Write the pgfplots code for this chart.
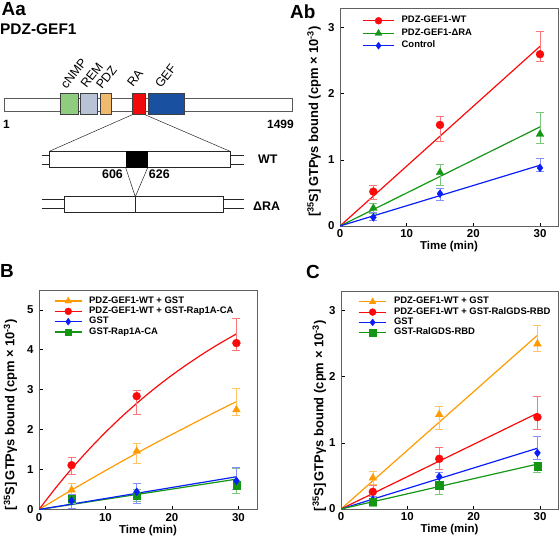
\documentclass[border=0pt]{standalone}
\usepackage{pgfplots}
\pgfplotsset{compat=1.18}
\usepackage{fontspec}
\setmainfont{Liberation Sans}
\definecolor{cred}{RGB}{250,10,10}
\definecolor{cgreen}{RGB}{20,150,20}
\definecolor{cblue}{RGB}{10,30,250}
\definecolor{corange}{RGB}{255,155,0}
\definecolor{bnmp}{RGB}{143,204,128}
\definecolor{brem}{RGB}{184,196,214}
\definecolor{bpdz}{RGB}{240,185,110}
\definecolor{bra}{RGB}{240,10,10}
\definecolor{bgef}{RGB}{26,80,160}
\newcommand{\fs}[1]{\fontsize{#1}{#1}\selectfont}
\pgfplotsset{
 panel/.style={
   scale only axis, anchor=south west,
   axis line style={draw=gray!75!black, line width=0.8bp},
   tick style={black, line width=0.8bp},
   tick align=inside, xtick pos=left, ytick pos=left,
   major tick length=3.5bp,
   xmin=0, xmax=32.7, xtick={0,10,20,30},
   ticklabel style={font=\fs{11.5}\bfseries},
   /pgf/number format/assume math mode=true,
   yticklabel style={xshift=-2bp},
   xlabel={Time (min)},
   xlabel style={font=\fs{11.5}\bfseries, at={(axis description cs:0.5,0)}, anchor=center, yshift=-21bp},
   ylabel={[\textsuperscript{35}S]\,GTPγs bound (cpm × 10\textsuperscript{-3})},
   ylabel style={font=\fs{13}\bfseries, anchor=center},
   legend cell align=left,
   legend style={draw=none, fill=none, font=\fs{9.5}\bfseries, anchor=north west, inner sep=0pt, column sep=6bp,
      nodes={inner sep=1bp, text height=6.3bp, text depth=2bp}},
 },
 fit/.style={line width=1.2bp, no markers, forget plot},
 dat/.style={only marks, forget plot, mark options={line width=0.3bp},
   error bars/.cd, y dir=both, y explicit,
   error bar style={line width=0.5bp, #1},
   error mark options={rotate=90, mark size=4bp, line width=0.5bp, #1}},
 leg/.style={line width=1.2bp, mark options={line width=0.3bp}},
}
\begin{document}
\begin{tikzpicture}
\path[use as bounding box] (0,0) rectangle (560bp,-537bp);
\begin{scope}[x=1bp,y=-1bp]
 % panel letters
 \node[anchor=base west, font=\fs{19}\bfseries, inner sep=0] at (1.5,15) {Aa};
 \node[anchor=base west, font=\fs{15.5}\bfseries, inner sep=0] at (0,34.3) {PDZ-GEF1};
 \node[anchor=base west, font=\fs{19}\bfseries, inner sep=0] at (290,18.3) {Ab};
 \node[anchor=base west, font=\fs{19}\bfseries, inner sep=0] at (0,277.5) {B};
 \node[anchor=base west, font=\fs{19}\bfseries, inner sep=0] at (306,278.5) {C};
 % main bar
 \draw[gray!70!black, line width=0.6bp, fill=white] (4,98) rectangle (292,111);
 \draw[gray!50!black, line width=0.6bp, fill=bnmp] (60.7,93.3) rectangle (78.7,114.7);
 \draw[gray!50!black, line width=0.6bp, fill=brem] (80.7,93.3) rectangle (97.7,114.7);
 \draw[gray!50!black, line width=0.6bp, fill=bpdz] (100.7,93.3) rectangle (111.3,114.7);
 \draw[gray!50!black, line width=0.6bp, fill=bra] (132.3,93.3) rectangle (145,114.7);
 \draw[gray!50!black, line width=0.6bp, fill=bgef] (148.3,93.3) rectangle (184,114.7);
 \foreach \p/\t in {{(66.5,90)}/cNMP, {(86.5,89)}/REM, {(102,90)}/PDZ, {(133,88)}/RA, {(161,89)}/GEF}
   \node[anchor=base west, rotate=52, font=\fs{12.5}, inner sep=0] at \p {\t};
 \node[anchor=west, font=\fs{12}\bfseries, inner sep=0] at (3,124.3) {1};
 \node[anchor=east, font=\fs{12}\bfseries, inner sep=0] at (294,124.3) {1499};
 % zoom lines
 \draw[gray!30!black, line width=0.5bp] (132.3,114.7) -- (49.3,151.3);
 \draw[gray!30!black, line width=0.5bp] (145,114.7) -- (230,151.3);
 % WT
 \draw[gray!30!black, line width=0.6bp] (41.7,155) -- (49.3,155) (41.7,164.5) -- (49.3,164.5)
    (230,155) -- (244,155) (230,164.5) -- (244,164.5);
 \draw[gray!30!black, line width=0.6bp, fill=white] (49.3,151.3) rectangle (230,167.7);
 \fill[black] (125.7,151.3) rectangle (147.7,167.7);
 \draw[gray!30!black, line width=0.5bp] (125.7,167.7) -- (135.3,196.7) -- (147.7,167.7);
 \node[font=\fs{12.5}\bfseries, inner sep=0] at (112.5,174.5) {606};
 \node[font=\fs{12.5}\bfseries, inner sep=0] at (159.3,174.5) {626};
 \node[anchor=west, font=\fs{12.5}\bfseries, inner sep=0] at (258,159.7) {WT};
 % dRA
 \draw[gray!30!black, line width=0.6bp] (41.7,199) -- (64.3,199) (41.7,208.5) -- (64.3,208.5)
    (223.3,199) -- (244,199) (223.3,208.5) -- (244,208.5);
 \draw[gray!30!black, line width=0.6bp, fill=white] (64.3,196.7) rectangle (223.3,212.7);
 \draw[gray!30!black, line width=0.6bp] (135.3,196.7) -- (135.3,212.7);
 \node[anchor=west, font=\fs{12.5}\bfseries, inner sep=0] at (253,206) {ΔRA};
\end{scope}

% ---------------- Ab
\begin{axis}[panel, at={(340bp,-226bp)}, width=218bp, height=218bp,
  ymin=0, ymax=3.3, ytick={0,1,2,3},
  ylabel style={at={(axis description cs:-0.119,0.479)}},
  legend style={at={(axis description cs:0.102,0.966)}, row sep=2.2bp},
  legend image code/.code={\draw[mark repeat=2,mark phase=2,#1] plot coordinates {(0bp,0bp) (15.5bp,0bp) (31bp,0bp)};}]
 \addplot[fit, cred] coordinates {(0,0) (30,2.72)};
 \addplot[fit, cgreen] coordinates {(0,0) (30,1.5)};
 \addplot[fit, cblue] coordinates {(0,0) (30,0.92)};
 \addplot[cred, mark=*, mark size=4bp, dat=cred!55] coordinates {
   (5,0.52) += (0,0.1) -= (0,0.12)
   (15,1.53) += (0,0.13) -= (0,0.25)
   (30,2.6) += (0,0.35) -= (0,0.11)};
 \addplot[cgreen, mark=triangle*, mark size=4.5bp, dat=cgreen!55] coordinates {
   (5,0.27) += (0,0.08) -= (0,0.08)
   (15,0.81) += (0,0.13) -= (0,0.2)
   (30,1.39) += (0,0.33) -= (0,0.13)};
 \addplot[cblue, mark=diamond*, mark size=4bp, dat=cblue!50] coordinates {
   (5,0.13) += (0,0.08) -= (0,0.05)
   (15,0.49) += (0,0.08) -= (0,0.1)
   (30,0.88) += (0,0.15) -= (0,0.05)};
 \addlegendimage{leg, cred, mark=*, mark size=3.5bp}
 \addlegendentry{PDZ-GEF1-WT}
 \addlegendimage{leg, cgreen, mark=triangle*, mark size=4bp}
 \addlegendentry{PDZ-GEF1-ΔRA}
 \addlegendimage{leg, cblue, mark=diamond*, mark size=3.5bp}
 \addlegendentry{Control}
\end{axis}

% ---------------- B
\begin{axis}[panel, at={(39bp,-509.5bp)}, width=218bp, height=219.5bp,
  ymin=0, ymax=5.5, ytick={0,1,2,3,4,5}, xmax=32.8,
  ylabel style={at={(axis description cs:-0.131,0.432)}},
  legend style={at={(axis description cs:0.069,0.974)}, row sep=0bp},
  legend image code/.code={\draw[mark repeat=2,mark phase=2,#1] plot coordinates {(0bp,0bp) (13.4bp,0bp) (26.7bp,0bp)};}]
 \addplot[fit, corange, smooth] coordinates {(0,0) (2.5,0.25) (5,0.495) (7.5,0.737) (10,0.975) (12.5,1.209) (15,1.439) (17.5,1.662) (20,1.881) (22.5,2.096) (25,2.311) (27.5,2.522) (29.7,2.703)};
 \addplot[fit, cred, smooth] coordinates {(0,0) (2.5,0.539) (5,1.039) (7.5,1.503) (10,1.934) (12.5,2.333) (15,2.703) (17.5,3.047) (20,3.366) (22.5,3.661) (25,3.936) (27.5,4.191) (29.7,4.40)};
 \addplot[fit, cgreen] coordinates {(0,0) (29.7,0.76)};
 \addplot[fit, cblue] coordinates {(0,0) (29.7,0.82)};
 \addplot[corange, mark=triangle*, mark size=4.5bp, dat=corange!60] coordinates {
   (4.9,0.49) += (0,0.16) -= (0,0.22)
   (14.7,1.46) += (0,0.19) -= (0,0.3)
   (29.7,2.5) += (0,0.53) -= (0,0.14)};
 \addplot[cred, mark=*, mark size=4bp, dat=cred!55] coordinates {
   (4.9,1.11) += (0,0.21) -= (0,0.22)
   (14.7,2.84) += (0,0.16) -= (0,0.45)
   (29.7,4.17) += (0,0.61) -= (0,0.17)};
 \addplot[cgreen, mark=square*, mark size=3.6bp, dat=cgreen!55] coordinates {
   (4.9,0.28) += (0,0.1) -= (0,0.12)
   (14.7,0.34) += (0,0.16) -= (0,0.14)
   (29.7,0.61) += (0,0.43) -= (0,0.2)};
 \addplot[cblue, mark=diamond*, mark size=4bp, dat=cblue!50] coordinates {
   (4.9,0.22) += (0,0.15) -= (0,0.2)
   (14.7,0.445) += (0,0.21) -= (0,0.28)
   (29.7,0.72) += (0,0.35) -= (0,0.22)};
 \addlegendimage{leg, corange, mark=triangle*, mark size=4bp}
 \addlegendentry{PDZ-GEF1-WT + GST}
 \addlegendimage{leg, cred, mark=*, mark size=3.5bp}
 \addlegendentry{PDZ-GEF1-WT + GST-Rap1A-CA}
 \addlegendimage{leg, cblue, mark=diamond*, mark size=3.5bp}
 \addlegendentry{GST}
 \addlegendimage{leg, cgreen, mark=square*, mark size=3.2bp}
 \addlegendentry{GST-Rap1A-CA}
\end{axis}

% ---------------- C
\begin{axis}[panel, at={(341bp,-509bp)}, width=217bp, height=218bp,
  ymin=0, ymax=3.3, ytick={0,1,2,3},
  ylabel style={at={(axis description cs:-0.1,0.427)}},
  legend style={at={(axis description cs:0.078,0.975)}, row sep=0bp},
  legend image code/.code={\draw[mark repeat=2,mark phase=2,#1] plot coordinates {(0bp,0bp) (13.9bp,0bp) (27.7bp,0bp)};}]
 \addplot[fit, corange] coordinates {(0,0) (29.6,2.63)};
 \addplot[fit, cred] coordinates {(0,0) (29.6,1.45)};
 \addplot[fit, cblue] coordinates {(0,0) (29.6,0.92)};
 \addplot[fit, cgreen] coordinates {(0,0) (29.6,0.68)};
 \addplot[corange, mark=triangle*, mark size=4.5bp, dat=corange!60] coordinates {
   (4.8,0.47) += (0,0.1) -= (0,0.1)
   (14.8,1.43) += (0,0.12) -= (0,0.22)
   (29.6,2.5) += (0,0.28) -= (0,0.11)};
 \addplot[cred, mark=*, mark size=4bp, dat=cred!55] coordinates {
   (4.8,0.26) += (0,0.1) -= (0,0.12)
   (14.8,0.76) += (0,0.18) -= (0,0.16)
   (29.6,1.39) += (0,0.31) -= (0,0.18)};
 \addplot[cblue, mark=diamond*, mark size=4bp, dat=cblue!50] coordinates {
   (4.8,0.14) += (0,0.06) -= (0,0.1)
   (14.8,0.49) += (0,0.07) -= (0,0.09)
   (29.6,0.85) += (0,0.25) -= (0,0.1)};
 \addplot[cgreen, mark=square*, mark size=3.6bp, dat=cgreen!55] coordinates {
   (4.8,0.11) += (0,0.06) -= (0,0.07)
   (14.8,0.36) += (0,0.06) -= (0,0.13)
   (29.6,0.65) += (0,0.06) -= (0,0.1)};
 \addlegendimage{leg, corange, mark=triangle*, mark size=4bp}
 \addlegendentry{PDZ-GEF1-WT + GST}
 \addlegendimage{leg, cred, mark=*, mark size=3.5bp}
 \addlegendentry{PDZ-GEF1-WT + GST-RalGDS-RBD}
 \addlegendimage{leg, cblue, mark=diamond*, mark size=3.5bp}
 \addlegendentry{GST}
 \addlegendimage{leg, cgreen, mark=square*, mark size=3.2bp}
 \addlegendentry{GST-RalGDS-RBD}
\end{axis}
\end{tikzpicture}
\end{document}
